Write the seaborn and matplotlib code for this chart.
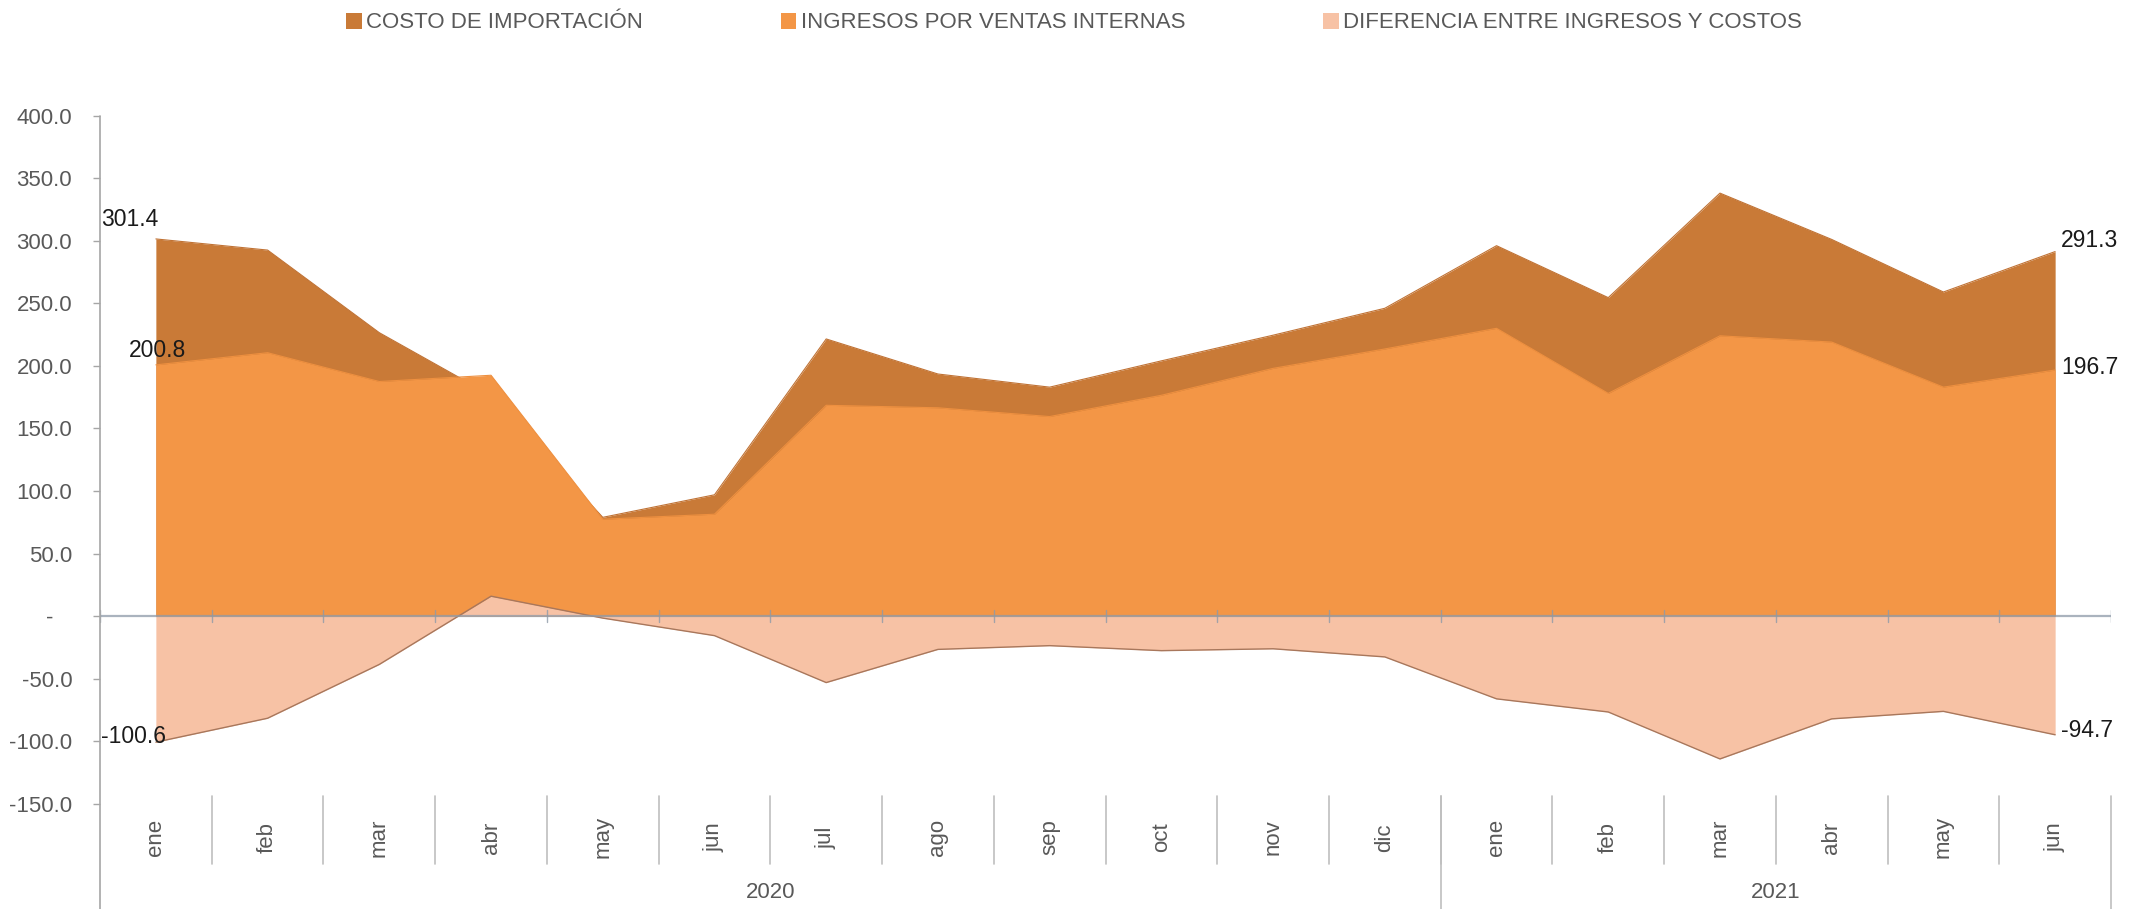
import numpy as np
import pandas as pd
import matplotlib
matplotlib.use("Agg")
import matplotlib.pyplot as plt
from matplotlib.patches import Patch
import seaborn as sns

# ---------------- data ----------------
months = ["ene", "feb", "mar", "abr", "may", "jun", "jul", "ago", "sep", "oct", "nov", "dic",
          "ene", "feb", "mar", "abr", "may", "jun"]
years = ["2020", "2021"]
year_counts = [12, 6]
costo = [301.4, 292.5, 226.5, 176.5, 79.0, 97.0, 221.5, 193.5, 183.0, 204.0, 224.5, 246.0,
         296.0, 254.5, 338.0, 301.0, 259.0, 291.3]
ingresos = [200.8, 210.5, 187.5, 192.5, 77.5, 81.5, 168.5, 166.5, 159.5, 176.5, 198.0, 213.5,
            230.0, 178.0, 224.0, 219.0, 183.0, 196.7]
diferencia = [-100.6, -81.5, -38.5, 16.0, -1.5, -15.5, -53.0, -26.5, -23.5, -27.5, -26.0, -32.5,
              -66.0, -76.5, -114.0, -82.0, -76.0, -94.7]
series_names = ["COSTO DE IMPORTACIÓN", "INGRESOS POR VENTAS INTERNAS", "DIFERENCIA ENTRE INGRESOS Y COSTOS"]
yticks = [-150, -100, -50, 0, 50, 100, 150, 200, 250, 300, 350, 400]

C_COST = "#C97A37"
C_REV = "#F39646"
C_DIFF = "#F7C2A5"
GRAY_TXT = "#595959"
AX_GRAY = "#A6A6A6"

sns.set_theme(style="white")
plt.rcParams["font.family"] = ["Liberation Sans", "DejaVu Sans"]

W, H = 2131, 909
fig = plt.figure(figsize=(W / 100, H / 100), dpi=100)
ax_top, ax_bot, ax_l, ax_r = 115.5, 804, 100, 2111
ax = fig.add_axes([ax_l / W, 1 - ax_bot / H, (ax_r - ax_l) / W, (ax_bot - ax_top) / H])

x = np.arange(len(months))
df = pd.DataFrame({"x": x, "costo": costo, "ingresos": ingresos, "diferencia": diferencia})

ax.fill_between(df["x"], 0, df["costo"], color=C_COST, lw=0, zorder=1)
ax.fill_between(df["x"], 0, df["ingresos"], color=C_REV, lw=0, zorder=2)
ax.fill_between(df["x"], 0, df["diferencia"], color=C_DIFF, lw=0, zorder=3)
sns.lineplot(data=df, x="x", y="costo", color="#C07234", lw=0.8, ax=ax, zorder=1.5)
sns.lineplot(data=df, x="x", y="ingresos", color="#EE9040", lw=0.8, ax=ax, zorder=2.5)
sns.lineplot(data=df, x="x", y="diferencia", color="#A8775C", lw=1.0, ax=ax, zorder=3.5)

ax.set_xlim(-0.5, len(months) - 0.5)
ax.set_ylim(-150, 400)
for s in ax.spines.values():
    s.set_visible(False)

# y axis
ax.set_yticks(yticks)
ax.set_yticklabels(["-   " if v == 0 else f"{v:.1f}" for v in yticks], fontsize=16, color=GRAY_TXT)
ax.tick_params(axis="y", length=5, width=1, color=AX_GRAY, direction="out", pad=15, left=True)
ax.set_xticks([])
ax.set_xlabel("")
ax.set_ylabel("")
ax.grid(False)

# left axis line extending through the category area
ax.plot([0, 0], [1, -0.153], transform=ax.transAxes, color=AX_GRAY, lw=1.2, clip_on=False, zorder=6)
# zero line with boundary ticks
ax.axhline(0, color="#8E9AA8", lw=1.6, alpha=0.75, zorder=5)
for b in np.arange(-0.5, len(months), 1.0):
    ax.plot([b, b], [-5, 5], color="#8E9AA8", lw=1.0, alpha=0.8, zorder=5)

# category labels
xt = ax.get_xaxis_transform()
for i, m in enumerate(months):
    ax.text(i, -0.0485, m, transform=xt, rotation=90, ha="center", va="center",
            fontsize=16, color=GRAY_TXT, clip_on=False)
for b in np.arange(0.5, len(months) - 1, 1.0):
    ax.plot([b, b], [0.0116, -0.087], transform=xt, color="#BFBFBF", lw=1.2, clip_on=False)
start = 0
for yname, cnt in zip(years, year_counts):
    center = start + (cnt - 1) / 2
    ax.text(center, -0.129, yname, transform=xt, ha="center", va="center",
            fontsize=16, color=GRAY_TXT, clip_on=False)
    end = start + cnt - 0.5
    ax.plot([end, end], [0.0116, -0.153], transform=xt, color="#BFBFBF", lw=1.2, clip_on=False)
    start += cnt

# data labels
lab_kw = dict(textcoords="offset pixels", fontsize=16.5, color="#1A1A1A", annotation_clip=False, zorder=7)
ax.annotate(f"{costo[0]:.1f}", (0, costo[0]), xytext=(2, 8), ha="right", va="bottom", **lab_kw)
ax.annotate(f"{ingresos[0]:.1f}", (0, ingresos[0]), xytext=(2, 3), ha="center", va="bottom", **lab_kw)
ax.annotate(f"{diferencia[0]:.1f}", (0, diferencia[0]), xytext=(10, 6), ha="right", va="center", **lab_kw)
n = len(months) - 1
ax.annotate(f"{costo[n]:.1f}", (n, costo[n]), xytext=(6, 11), ha="left", va="center", **lab_kw)
ax.annotate(f"{ingresos[n]:.1f}", (n, ingresos[n]), xytext=(6, 2), ha="left", va="center", **lab_kw)
ax.annotate(f"{diferencia[n]:.1f}", (n, diferencia[n]), xytext=(6, 4), ha="left", va="center", **lab_kw)

# legend
handles = [Patch(facecolor=c, edgecolor="none") for c in (C_COST, C_REV, C_DIFF)]
leg = fig.legend(handles, series_names, loc="center", bbox_to_anchor=(0.504, 1 - 23 / H), ncol=3,
                 frameon=False, fontsize=16, handlelength=0.7, handleheight=0.7,
                 handletextpad=0.2, columnspacing=6.2)
for t in leg.get_texts():
    t.set_color(GRAY_TXT)

fig.savefig("out.png", dpi=100)
